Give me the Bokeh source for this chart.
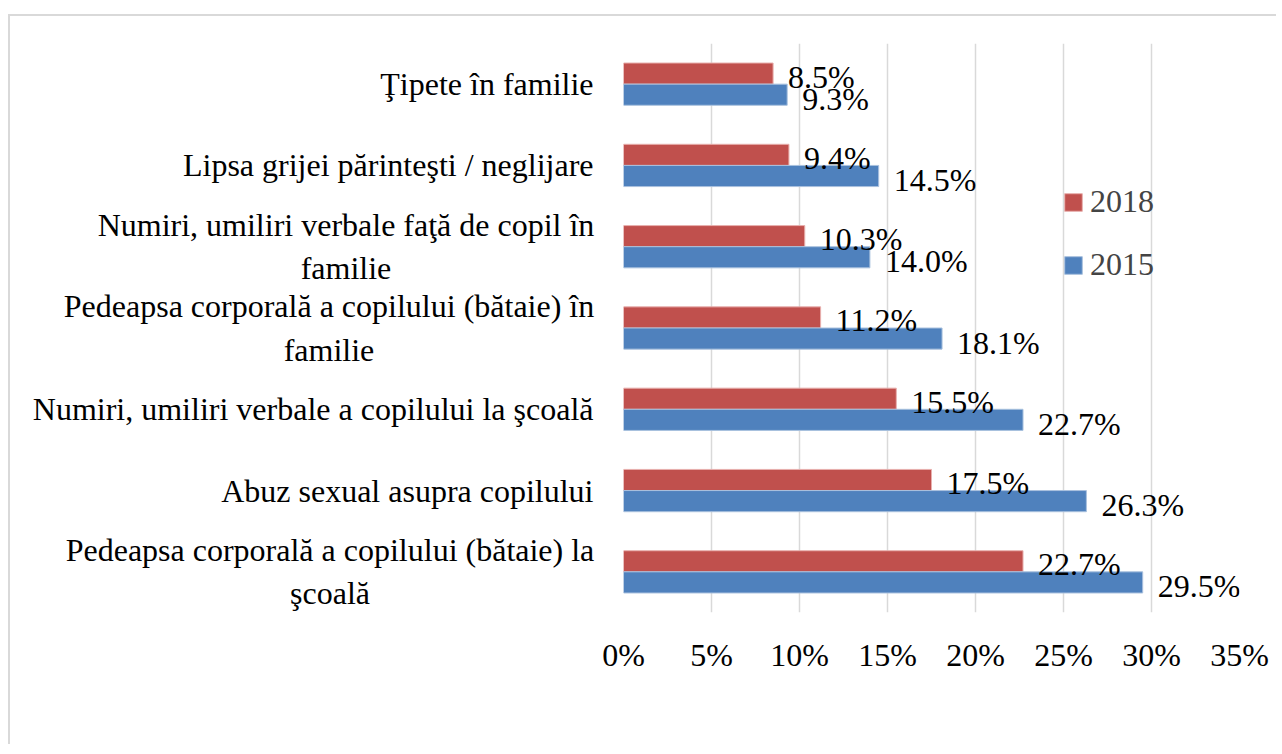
from bokeh.plotting import figure
from bokeh.layouts import row
from bokeh.models import (ColumnDataSource, FactorRange, FixedTicker, PrintfTickFormatter,
                          Legend, LegendItem, Range1d)
from bokeh.transform import dodge
from bokeh.core.properties import value
from bokeh.embed import file_html
from bokeh.resources import INLINE

# ---- data (bottom to top) ----
categories = [
    "Pedeapsa corporală a copilului (bătaie) la\nşcoală",
    "Abuz sexual asupra copilului",
    "Numiri, umiliri verbale a copilului la şcoală",
    "Pedeapsa corporală a copilului (bătaie) în\nfamilie",
    "Numiri, umiliri verbale faţă de copil în\nfamilie",
    "Lipsa grijei părinteşti / neglijare",
    "Ţipete în familie",
]
values_2018 = [22.7, 17.5, 15.5, 11.2, 10.3, 9.4, 8.5]
values_2015 = [29.5, 26.3, 22.7, 18.1, 14.0, 14.5, 9.3]
x_ticks = [0, 5, 10, 15, 20, 25, 30, 35]

FONT = "Liberation Serif"
FS = "32px"
RED = "#C0504D"
BLUE = "#4F81BD"
LABEL_W = 589          # width of the category-label panel (px)
LABEL_RIGHT = 583      # right edge of category labels inside that panel (px)
MAIN_LEFT = 613 - LABEL_W
# estimated pixel width of the first line of each two-line category label (style only)
first_line_widths = {0: 527, 3: 529, 4: 495}

src = ColumnDataSource(dict(
    cat=categories,
    v18=values_2018,
    v15=values_2015,
    l18=[f"{v:.1f}%" for v in values_2018],
    l15=[f"{v:.1f}%" for v in values_2015],
))

single = dict(cat=[], x=[])
multi = dict(cat=[], x=[])
for i, c in enumerate(categories):
    if "\n" in c:
        multi["cat"].append(c); multi["x"].append(LABEL_RIGHT - first_line_widths[i] / 2)
    else:
        single["cat"].append(c); single["x"].append(LABEL_RIGHT)

yr = FactorRange(*categories)

# ---- category label panel ----
lp = figure(width=LABEL_W, height=728, y_range=yr, x_range=Range1d(0, LABEL_W),
            output_backend="svg", toolbar_location=None,
            min_border_left=0, min_border_right=0, min_border_top=27, min_border_bottom=132)
lp.axis.visible = False
lp.grid.visible = False
lp.outline_line_color = None
lp.border_fill_color = "white"
lab_kw = dict(text_font=value(FONT), text_font_size=FS, text_color="black",
              text_baseline="middle")
lp.text(x="x", y="cat", text="cat", source=ColumnDataSource(single),
        text_align="right", **lab_kw)
lp.text(x="x", y="cat", text="cat", source=ColumnDataSource(multi),
        text_align="center", **lab_kw)

# ---- main chart ----
p = figure(width=1266 - LABEL_W, height=728, y_range=yr,
           x_range=Range1d(0, 35), output_backend="svg", toolbar_location=None,
           min_border_left=MAIN_LEFT, min_border_right=37, min_border_top=27,
           min_border_bottom=132)
p.outline_line_color = None
p.background_fill_color = "white"
p.border_fill_color = "white"

r18 = p.hbar(y=dodge("cat", 0.13, range=yr), right="v18", left=0, height=0.26,
             source=src, fill_color=RED, line_color="#e8b0ae", line_width=1)
r15 = p.hbar(y=dodge("cat", -0.13, range=yr), right="v15", left=0, height=0.26,
             source=src, fill_color=BLUE, line_color="#a9c1de", line_width=1)

p.text(x="v18", y=dodge("cat", 0.13, range=yr), text="l18", source=src,
       x_offset=15, y_offset=3, text_baseline="middle", text_align="left",
       text_font=value(FONT), text_font_size=FS, text_color="black")
p.text(x="v15", y=dodge("cat", -0.13, range=yr), text="l15", source=src,
       x_offset=15, y_offset=4, text_baseline="middle", text_align="left",
       text_font=value(FONT), text_font_size=FS, text_color="black")

p.xaxis.ticker = FixedTicker(ticks=x_ticks)
p.xaxis.formatter = PrintfTickFormatter(format="%d%%")
ax = p.xaxis[0]
ax.axis_line_color = None
ax.major_tick_line_color = None
ax.minor_tick_line_color = None
ax.major_label_text_font = FONT
ax.major_label_text_font_size = FS
ax.major_label_text_color = "black"
ax.major_label_standoff = 18
p.yaxis.visible = False

p.xgrid.ticker = FixedTicker(ticks=x_ticks)
p.xgrid.grid_line_color = "#d9d9d9"
p.xgrid.grid_line_width = 1.5
p.ygrid.grid_line_color = None

legend = Legend(items=[LegendItem(label="2018", renderers=[r18]),
                       LegendItem(label="2015", renderers=[r15])],
                location=(439, 329), orientation="vertical",
                glyph_width=22, glyph_height=22, label_standoff=6,
                spacing=26, padding=0, margin=0,
                label_text_font=FONT, label_text_font_size=FS,
                border_line_color=None, background_fill_alpha=0)
p.add_layout(legend)

layout = row(lp, p, spacing=0)
layout.styles = {"border-top": "2px solid #d9d9d9", "border-left": "2px solid #d9d9d9",
                 "margin-top": "14px", "margin-left": "8px"}

open("out.html", "w").write(file_html(layout, INLINE))
